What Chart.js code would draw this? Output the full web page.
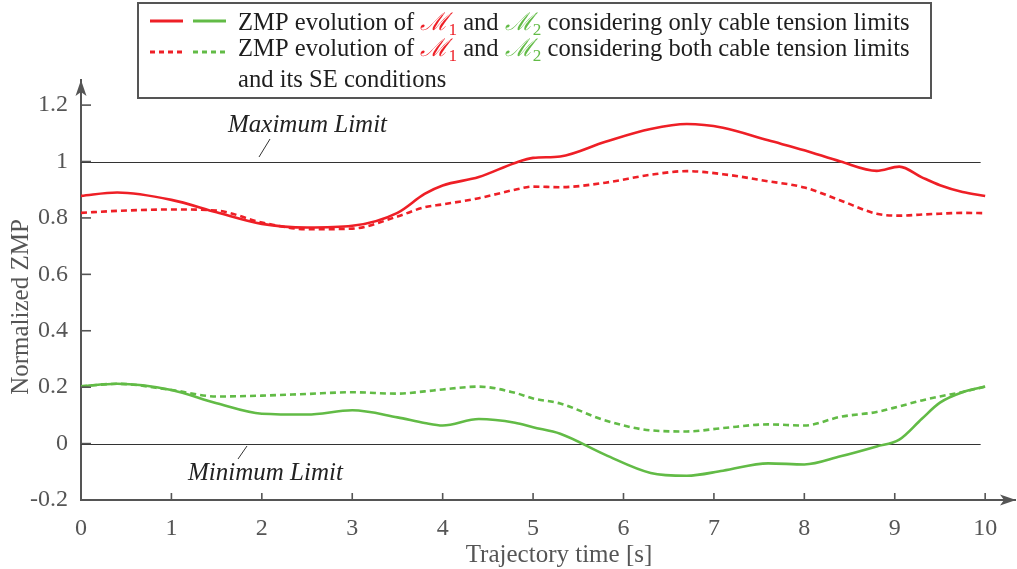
<!DOCTYPE html>
<html>
<head>
<meta charset="utf-8">
<script src="https://cdn.jsdelivr.net/npm/chart.js@4.4.1/dist/chart.umd.min.js"></script>
<style>
  html, body { margin: 0; padding: 0; background: #fff; }
  #wrap { width: 1017px; height: 569px; }
</style>
</head>
<body>
<div id="wrap"><canvas id="zmpChart" width="1017" height="569"></canvas></div>
<script>
// trajectory time [s]
const times = [0, 0.4, 1, 1.5, 2, 2.5, 3, 3.5, 3.8, 4, 4.4, 4.8, 5, 5.3, 5.8, 6.3, 6.7, 7.1, 7.6, 8, 8.4, 8.8, 9.05, 9.3, 9.5, 9.75, 10];

// normalized ZMP, cable tension limits only
const zmpM1Tension = [0.878, 0.89, 0.864, 0.82, 0.779, 0.766, 0.772, 0.818, 0.885, 0.915, 0.945, 0.995, 1.013, 1.018, 1.07, 1.115, 1.133, 1.12, 1.075, 1.04, 1.0, 0.967, 0.982, 0.944, 0.916, 0.892, 0.878];
const zmpM2Tension = [0.203, 0.212, 0.19, 0.143, 0.106, 0.103, 0.118, 0.093, 0.073, 0.064, 0.087, 0.074, 0.058, 0.035, -0.04, -0.104, -0.114, -0.096, -0.07, -0.074, -0.045, -0.01, 0.014, 0.088, 0.145, 0.182, 0.202];

// normalized ZMP, cable tension limits + SE conditions
const zmpM1SE = [0.818, 0.825, 0.83, 0.826, 0.784, 0.76, 0.762, 0.805, 0.838, 0.848, 0.87, 0.9, 0.911, 0.909, 0.925, 0.953, 0.966, 0.955, 0.93, 0.908, 0.862, 0.815, 0.808, 0.812, 0.815, 0.818, 0.817];
const zmpM2SE = [0.203, 0.212, 0.19, 0.167, 0.17, 0.176, 0.182, 0.177, 0.185, 0.192, 0.202, 0.18, 0.16, 0.142, 0.082, 0.047, 0.043, 0.055, 0.068, 0.064, 0.095, 0.112, 0.132, 0.153, 0.167, 0.183, 0.202];

const xTickValues = [0, 1, 2, 3, 4, 5, 6, 7, 8, 9, 10];
const yTickValues = [-0.2, 0, 0.2, 0.4, 0.6, 0.8, 1, 1.2];
const limitValues = [1, 0];

const RED = '#ee1f26';
const GREEN = '#62bb46';
const AXIS = '#555555';
const SERIF = "'Liberation Serif', 'DejaVu Serif', serif";

function points(ys) {
    return times.map((t, i) => ({ x: t, y: ys[i] }));
}

function line(label, ys, color, dashed) {
    return {
        label: label,
        data: points(ys),
        borderColor: color,
        borderWidth: 2.6,
        borderDash: dashed ? [6, 4] : [],
        pointRadius: 0,
        cubicInterpolationMode: 'monotone',
        fill: false
    };
}

// arrow head with a notched back, pointing along (dx, dy)
function arrow(ctx, x, y, dx, dy) {
    const len = 16, half = 5.5, notch = 4;
    const px = -dy, py = dx;
    ctx.beginPath();
    ctx.moveTo(x, y);
    ctx.lineTo(x - dx * len + px * half, y - dy * len + py * half);
    ctx.lineTo(x - dx * (len - notch), y - dy * (len - notch));
    ctx.lineTo(x - dx * len - px * half, y - dy * len - py * half);
    ctx.closePath();
    ctx.fill();
}

// text made of coloured runs, some of them subscripts
function drawRuns(ctx, runs, x, y, size) {
    let cx = x;
    runs.forEach(r => {
        const s = r.sub ? size * 0.7 : size;
        ctx.font = (r.italic ? 'italic ' : '') + s + 'px ' + SERIF;
        ctx.fillStyle = r.color || '#1e1e1e';
        ctx.fillText(r.text, cx, y + (r.sub ? size * 0.22 : 0));
        cx += ctx.measureText(r.text).width;
    });
}

const decorations = {
    id: 'decorations',
    beforeDatasetsDraw(chart) {
        const { ctx, chartArea, scales } = chart;
        const ys = scales.y, xs = scales.x;
        ctx.save();
        // limit lines
        ctx.strokeStyle = '#333';
        ctx.lineWidth = 1.2;
        limitValues.forEach(v => {
            const py = Math.round(ys.getPixelForValue(v)) + 0.5;
            ctx.beginPath();
            ctx.moveTo(chartArea.left, py);
            ctx.lineTo(xs.getPixelForValue(9.95), py);
            ctx.stroke();
        });
        ctx.restore();
    },
    afterDraw(chart) {
        const { ctx, chartArea, scales } = chart;
        const ys = scales.y, xs = scales.x;
        ctx.save();

        // inward tick marks
        ctx.strokeStyle = AXIS;
        ctx.lineWidth = 1.6;
        yTickValues.forEach(v => {
            const py = ys.getPixelForValue(v);
            ctx.beginPath();
            ctx.moveTo(chartArea.left, py);
            ctx.lineTo(chartArea.left + 10, py);
            ctx.stroke();
        });
        xTickValues.forEach(v => {
            if (v === 0) return;
            const px = xs.getPixelForValue(v);
            ctx.beginPath();
            ctx.moveTo(px, chartArea.bottom);
            ctx.lineTo(px, chartArea.bottom - 7);
            ctx.stroke();
        });

        // axis arrows
        ctx.fillStyle = AXIS;
        arrow(ctx, chartArea.left, chartArea.top, 0, -1);
        arrow(ctx, chartArea.right + 1, chartArea.bottom, 1, 0);

        // axis titles
        ctx.fillStyle = AXIS;
        ctx.font = '25px ' + SERIF;
        ctx.textAlign = 'center';
        ctx.textBaseline = 'alphabetic';
        ctx.fillText('Trajectory time [s]', 559, 562);
        ctx.save();
        ctx.translate(28, 307);
        ctx.rotate(-Math.PI / 2);
        ctx.fillText('Normalized ZMP', 0, 0);
        ctx.restore();

        // limit annotations
        ctx.fillStyle = '#222';
        ctx.textAlign = 'left';
        ctx.font = 'italic 25px ' + SERIF;
        ctx.fillText('Maximum Limit', 228, 132);
        ctx.fillText('Minimum Limit', 188, 480);
        ctx.strokeStyle = '#333';
        ctx.lineWidth = 1;
        ctx.beginPath();
        ctx.moveTo(259, 157);
        ctx.lineTo(270, 139);
        ctx.moveTo(238, 459);
        ctx.lineTo(247, 446);
        ctx.stroke();

        // legend box
        ctx.fillStyle = '#fff';
        ctx.fillRect(138, 3, 793, 95);
        ctx.strokeStyle = AXIS;
        ctx.lineWidth = 2;
        ctx.strokeRect(138, 3, 793, 95);

        const swatches = [
            { y: 21, color: RED, x0: 150, dash: [] },
            { y: 21, color: GREEN, x0: 193, dash: [] },
            { y: 52, color: RED, x0: 150, dash: [5, 4] },
            { y: 52, color: GREEN, x0: 193, dash: [5, 4] }
        ];
        ctx.lineWidth = 3;
        swatches.forEach(s => {
            ctx.strokeStyle = s.color;
            ctx.setLineDash(s.dash);
            ctx.beginPath();
            ctx.moveTo(s.x0, s.y);
            ctx.lineTo(s.x0 + 33, s.y);
            ctx.stroke();
        });
        ctx.setLineDash([]);

        const m1m2 = [
            { text: 'ZMP evolution of ' },
            { text: '\u2133', color: RED, italic: true },
            { text: '1', color: RED, sub: true },
            { text: ' and ' },
            { text: '\u2133', color: GREEN, italic: true },
            { text: '2', color: GREEN, sub: true }
        ];
        drawRuns(ctx, m1m2.concat([{ text: ' considering only cable tension limits' }]), 238, 30, 24.6);
        drawRuns(ctx, m1m2.concat([{ text: ' considering both cable tension limits' }]), 238, 56, 24.6);
        drawRuns(ctx, [{ text: 'and its SE conditions' }], 238, 87, 24.6);

        ctx.restore();
    }
};

const ctx = document.getElementById('zmpChart').getContext('2d');
new Chart(ctx, {
    type: 'line',
    data: {
        datasets: [
            line('M1 tension limits', zmpM1Tension, RED, false),
            line('M1 tension limits + SE', zmpM1SE, RED, true),
            line('M2 tension limits', zmpM2Tension, GREEN, false),
            line('M2 tension limits + SE', zmpM2SE, GREEN, true)
        ]
    },
    options: {
        responsive: false,
        devicePixelRatio: 1,
        animation: false,
        layout: { padding: { top: 80, right: 2, left: 0, bottom: 0 } },
        plugins: {
            legend: { display: false },
            tooltip: { enabled: false }
        },
        scales: {
            x: {
                type: 'linear',
                min: 0,
                max: 10.33,
                afterFit: (axis) => { axis.height = 69; },
                afterBuildTicks: (axis) => { axis.ticks = xTickValues.map(v => ({ value: v })); },
                grid: { display: false, drawTicks: false },
                border: { display: true, color: AXIS, width: 2 },
                ticks: {
                    autoSkip: false,
                    maxRotation: 0,
                    padding: 14,
                    color: AXIS,
                    font: { family: SERIF, size: 24 }
                }
            },
            y: {
                type: 'linear',
                min: -0.2,
                max: 1.289,
                afterFit: (axis) => { axis.width = 81; },
                afterBuildTicks: (axis) => { axis.ticks = yTickValues.map(v => ({ value: v })); },
                grid: { display: false, drawTicks: false },
                border: { display: true, color: AXIS, width: 2 },
                ticks: {
                    padding: 13,
                    color: AXIS,
                    font: { family: SERIF, size: 24 },
                    callback: (v) => String(Math.round(v * 10) / 10)
                }
            }
        }
    },
    plugins: [decorations]
});
</script>
</body>
</html>
